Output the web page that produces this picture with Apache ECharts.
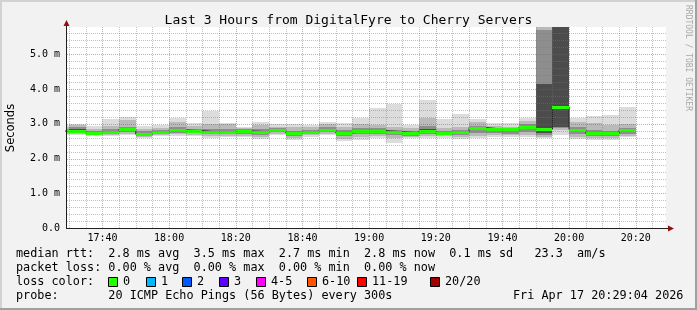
<!DOCTYPE html>
<html>
<head>
<meta charset="utf-8">
<script src="https://cdn.jsdelivr.net/npm/echarts@6.0.0/dist/echarts.min.js"></script>
<style>
html,body{margin:0;padding:0;background:#f2f2f2;}
#chart{width:697px;height:310px;}
</style>
</head>
<body>
<div id="chart"></div>
<script>
// ---------------- data ----------------
const colTimes = ['17:25','17:30','17:35','17:40','17:45','17:50','17:55',
  '18:00','18:05','18:10','18:15','18:20','18:25','18:30','18:35','18:40','18:45','18:50','18:55',
  '19:00','19:05','19:10','19:15','19:20','19:25','19:30','19:35','19:40','19:45','19:50','19:55',
  '20:00','20:05','20:10','20:15'];
const stepMinutes = 5;
const medianRtt = [2.79, 2.80,2.73,2.77,2.85,2.70,2.76,2.82,2.80,2.76,2.76,2.79,2.77,2.82,2.74,2.76,2.83,2.74,2.78,2.80,2.77,2.74,2.80,2.73,2.76,2.89,2.85,2.84,2.91,2.85,3.48,2.83,2.73,2.73,2.83];
const smokeMin  = [2.67, 2.67,2.65,2.65,2.68,2.59,2.65,2.65,2.65,2.59,2.62,2.62,2.56,2.68,2.54,2.63,2.68,2.49,2.54,2.60,2.46,2.60,2.60,2.60,2.56,2.60,2.63,2.63,2.63,2.58,2.68,2.56,2.54,2.54,2.61];
const smokeMax  = [2.97, 3.00,2.95,3.14,3.19,2.94,2.97,3.16,3.02,3.37,3.02,2.92,3.05,3.00,3.00,2.97,3.06,3.02,3.16,3.45,3.56,2.97,3.69,3.13,3.29,3.14,3.02,3.02,3.18,5.95,5.95,3.16,3.21,3.24,3.48];
const band2Lo   = [2.70, 2.70,2.67,2.68,2.72,2.63,2.68,2.70,2.69,2.64,2.66,2.66,2.62,2.71,2.60,2.67,2.72,2.56,2.62,2.66,2.58,2.63,2.66,2.64,2.62,2.66,2.68,2.67,2.68,2.62,2.82,2.62,2.60,2.60,2.66];
const band2Hi   = [2.92, 2.96,2.85,2.95,3.10,2.85,2.88,3.05,2.93,3.00,2.98,2.88,2.97,2.92,2.90,2.90,3.00,2.92,3.00,2.96,2.92,2.88,3.16,2.88,2.92,3.04,2.95,2.92,3.08,5.95,5.95,3.05,3.02,2.96,3.00];
const band3Lo   = [2.73, 2.74,2.69,2.72,2.76,2.66,2.71,2.74,2.73,2.70,2.70,2.71,2.69,2.75,2.66,2.71,2.76,2.64,2.70,2.71,2.67,2.66,2.72,2.68,2.68,2.74,2.73,2.72,2.75,2.68,2.88,2.70,2.66,2.66,2.72];
const band3Hi   = [2.85, 2.90,2.78,2.84,2.92,2.78,2.81,2.90,2.86,2.86,2.85,2.84,2.85,2.87,2.80,2.81,2.90,2.82,2.87,2.87,2.83,2.80,2.95,2.79,2.82,2.95,2.89,2.88,2.98,5.70,5.95,2.90,2.82,2.80,2.89];
const band4Lo   = [2.76, 2.77,2.71,2.75,2.81,2.68,2.74,2.79,2.77,2.73,2.74,2.76,2.74,2.79,2.71,2.74,2.80,2.71,2.75,2.76,2.73,2.70,2.77,2.71,2.73,2.84,2.80,2.79,2.85,2.74,2.92,2.78,2.70,2.70,2.79];
const band4Hi   = [2.82, 2.84,2.75,2.79,2.87,2.73,2.78,2.84,2.82,2.79,2.79,2.81,2.79,2.84,2.76,2.78,2.85,2.76,2.80,2.82,2.79,2.76,2.84,2.75,2.78,2.91,2.87,2.86,2.94,4.15,5.95,2.86,2.76,2.75,2.86];

const xMajorTicks = ['17:40','18:00','18:20','18:40','19:00','19:20','19:40','20:00','20:20'];
const xMinorTicks = ['17:30','17:35','17:45','17:50','17:55','18:05','18:10','18:15','18:25','18:30','18:35',
  '18:45','18:50','18:55','19:05','19:10','19:15','19:25','19:30','19:35','19:45','19:50','19:55',
  '20:05','20:10','20:15','20:25'];
const yMajorTicks = [1,2,3,4,5];
const yMinorTicks = [0.2,0.4,0.6,0.8,1.2,1.4,1.6,1.8,2.2,2.4,2.6,2.8,3.2,3.4,3.6,3.8,4.2,4.4,4.6,4.8,5.2,5.4,5.6];
const yTickLabels = ['0.0','1.0 m','2.0 m','3.0 m','4.0 m','5.0 m'];
const timeStart = '17:29:04', timeEnd = '20:29:04';
const yMax = 5.786;

const lossLegend = [['0','#26ff00'],['1','#00b8ff'],['2','#0059ff'],['3','#5e00ff'],
  ['4-5','#ff00ff'],['6-10','#ff5500'],['11-19','#ff0000'],['20/20','#a10000']];
const legendLines = [
  'median rtt:  2.8 ms avg  3.5 ms max  2.7 ms min  2.8 ms now  0.1 ms sd   23.3  am/s',
  'packet loss: 0.00 % avg  0.00 % max  0.00 % min  0.00 % now',
  'loss color:',
  'probe:       20 ICMP Echo Pings (56 Bytes) every 300s'
];
const dateText = 'Fri Apr 17 20:29:04 2026';
const titleText = 'Last 3 Hours from DigitalFyre to Cherry Servers';

// ---------------- helpers ----------------
function toMin(s){ const p=s.split(':').map(Number); return p[0]*60+p[1]+(p[2]||0)/60; }
function fmtMin(v){ const h=Math.floor(v/60), m=Math.round(v-h*60); return h+':'+String(m).padStart(2,'0'); }

const MONO = '"DejaVu Sans Mono", monospace';
const G = {left:66, top:27, width:600, height:201};
const bandColors = ['#dcdcdc','#bababa','#8e8e8e','#4c4c4c'];
const MINOR = 'rgba(120,120,120,0.45)';
const MAJOR = 'rgba(235,50,50,0.5)';

const smokeData = colTimes.map((t,i)=>[toMin(t), toMin(t)+stepMinutes,
  smokeMin[i],smokeMax[i],band2Lo[i],band2Hi[i],band3Lo[i],band3Hi[i],band4Lo[i],band4Hi[i],medianRtt[i]]);
const stepData = colTimes.map((t,i)=>[toMin(t), medianRtt[i]]);
stepData.push([toMin(colTimes[colTimes.length-1])+stepMinutes, medianRtt[medianRtt.length-1]]);

function clampY(v){ return Math.min(v, yMax); }

function smokeItem(params, api){
  const cs = params.coordSys;
  let x0 = Math.round(api.coord([api.value(0),0])[0]);
  let x1 = Math.round(api.coord([api.value(1),0])[0]);
  x0 = Math.max(x0, cs.x); x1 = Math.min(x1, cs.x+cs.width);
  const ch = [];
  for (let k=0;k<4;k++){
    const lo = api.value(2+k*2), hi = clampY(api.value(3+k*2));
    const yT = Math.round(api.coord([0,hi])[1]);
    const yB = Math.round(api.coord([0,lo])[1]);
    ch.push({type:'rect', shape:{x:x0,y:yT,width:x1-x0,height:Math.max(1,yB-yT)}, style:{fill:bandColors[k]}});
  }
  return {type:'group', children:ch};
}
function medianItem(params, api){
  const cs = params.coordSys;
  let x0 = Math.round(api.coord([api.value(0),0])[0]);
  let x1 = Math.round(api.coord([api.value(1),0])[0]);
  x0 = Math.max(x0, cs.x); x1 = Math.min(x1, cs.x+cs.width);
  const y = Math.round(api.coord([0, api.value(10)])[1]);
  return {type:'rect', shape:{x:x0, y:y-1, width:x1-x0, height:3}, style:{fill:lossLegend[0][1]}};
}
// dotted grid lines drawn as 1px dots (every other pixel)
function dotsV(x, y0, y1, color){
  const ch = [];
  for (let y=y0; y<y1; y+=2) ch.push({type:'rect', shape:{x:x, y:y, width:1, height:1}, style:{fill:color}});
  return ch;
}
function dotsH(y, x0, x1, color){
  const ch = [];
  for (let x=x0; x<x1; x+=2) ch.push({type:'rect', shape:{x:x, y:y, width:1, height:1}, style:{fill:color}});
  return ch;
}
function vGrid(params, api){
  const cs = params.coordSys;
  const x = Math.round(api.coord([api.value(0),0])[0]);
  return {type:'group', children:dotsV(x, cs.y, cs.y+cs.height, api.value(2)?MAJOR:MINOR)};
}
function hGrid(params, api){
  const cs = params.coordSys;
  const y = Math.round(api.coord([0,api.value(1)])[1]);
  return {type:'group', children:dotsH(y, cs.x+1, cs.x+cs.width, api.value(2)?MAJOR:MINOR)};
}
const vGridData = xMinorTicks.map(t=>[toMin(t),0,0]).concat(xMajorTicks.map(t=>[toMin(t),0,1]));
const hGridData = yMinorTicks.map(v=>[toMin(timeStart),v,0]).concat(yMajorTicks.map(v=>[toMin(timeStart),v,1]));

// ---------------- graphics ----------------
const AX = G.left + 0.5, AY = G.top + G.height + 0.5;
const graphics = [
  {type:'rect', shape:{x:0,y:0,width:697,height:2}, style:{fill:'#d2d2d2'}, z:100},
  {type:'rect', shape:{x:0,y:0,width:2,height:310}, style:{fill:'#d2d2d2'}, z:100},
  {type:'rect', shape:{x:0,y:308,width:697,height:2}, style:{fill:'#a0a0a0'}, z:100},
  {type:'rect', shape:{x:695,y:0,width:2,height:310}, style:{fill:'#a0a0a0'}, z:100},
  {type:'line', shape:{x1:AX,y1:AY,x2:AX,y2:G.top-4}, style:{stroke:'#202020',lineWidth:1}, z:50},
  {type:'line', shape:{x1:G.left,y1:AY,x2:G.left+G.width+4,y2:AY}, style:{stroke:'#202020',lineWidth:1}, z:50},
  {type:'polygon', shape:{points:[[AX-3,G.top-1],[AX+3,G.top-1],[AX,G.top-7]]}, style:{fill:'#901010'}, z:51},
  {type:'polygon', shape:{points:[[G.left+G.width+2,AY-3],[G.left+G.width+2,AY+3],[G.left+G.width+8,AY]]}, style:{fill:'#901010'}, z:51},
  {type:'text', x:11, y:128, rotation:Math.PI/2,
    style:{text:'Seconds', font:'11.5px "DejaVu Sans", sans-serif', fill:'#000', align:'center', verticalAlign:'middle'}},
  {type:'text', x:688, y:5, rotation:-Math.PI/2,
    style:{text:'RRDTOOL / TOBI OETIKER', font:'8px '+MONO, fill:'#a8a8a8', align:'left', verticalAlign:'middle'}},
  {type:'text', x:513, y:296, style:{text:dateText, font:'11.8px '+MONO, fill:'#000', align:'left', verticalAlign:'middle'}}
];
const lineY = [254, 268, 282, 296];
legendLines.forEach((s,i)=>{
  graphics.push({type:'text', x:16, y:lineY[i], style:{text:s, font:'11.8px '+MONO, fill:'#000', align:'left', verticalAlign:'middle'}});
});
const sqX = [108,146,182,219,256,307,357,430];
lossLegend.forEach((lc,i)=>{
  graphics.push({type:'rect', shape:{x:sqX[i]+0.5,y:277.5,width:9,height:9}, style:{fill:lc[1], stroke:'#000', lineWidth:1}});
  graphics.push({type:'text', x:sqX[i]+15, y:282, style:{text:lc[0], font:'11.8px '+MONO, fill:'#000', align:'left', verticalAlign:'middle'}});
});

// ---------------- chart ----------------
const chart = echarts.init(document.getElementById('chart'), null, {renderer:'canvas'});
chart.setOption({
  animation:false,
  backgroundColor:'#f2f2f2',
  title:{text:titleText, left:'center', top:9, textStyle:{fontFamily:MONO, fontSize:13, fontWeight:'normal', color:'#000'}},
  grid:{left:G.left, top:G.top, width:G.width, height:G.height, show:true, backgroundColor:'#ffffff', borderWidth:0},
  xAxis:{type:'value', min:toMin(timeStart), max:toMin(timeEnd),
    axisLine:{show:false}, axisTick:{show:false}, splitLine:{show:false},
    axisLabel:{customValues:xMajorTicks.map(toMin), formatter:v=>fmtMin(v), fontFamily:MONO, fontSize:10, color:'#000', margin:5}},
  yAxis:{type:'value', min:0, max:yMax, interval:1,
    axisLine:{show:false}, axisTick:{show:false}, splitLine:{show:false},
    axisLabel:{formatter:v=>{const i=Math.round(v); return (Math.abs(v-i)<1e-6 && yTickLabels[i]!==undefined)?yTickLabels[i]:'';},
      showMaxLabel:false, fontFamily:MONO, fontSize:10, color:'#000', margin:6}},
  graphic:graphics,
  series:[
    {type:'custom', name:'smoke', renderItem:smokeItem, data:smokeData, encode:{x:[0,1], y:[2,3]}, clip:true, silent:true, z:1},
    {type:'line', name:'median-step', data:stepData, step:'end', symbol:'none', lineStyle:{color:'#202020', width:1}, clip:true, silent:true, z:2},
    {type:'custom', name:'median', renderItem:medianItem, data:smokeData, encode:{x:[0,1], y:10}, clip:true, silent:true, z:3},
    {type:'custom', name:'vgrid', renderItem:vGrid, data:vGridData, encode:{x:0, y:1}, silent:true, z:5},
    {type:'custom', name:'hgrid', renderItem:hGrid, data:hGridData, encode:{x:0, y:1}, silent:true, z:5}
  ]
});
</script>
</body>
</html>
